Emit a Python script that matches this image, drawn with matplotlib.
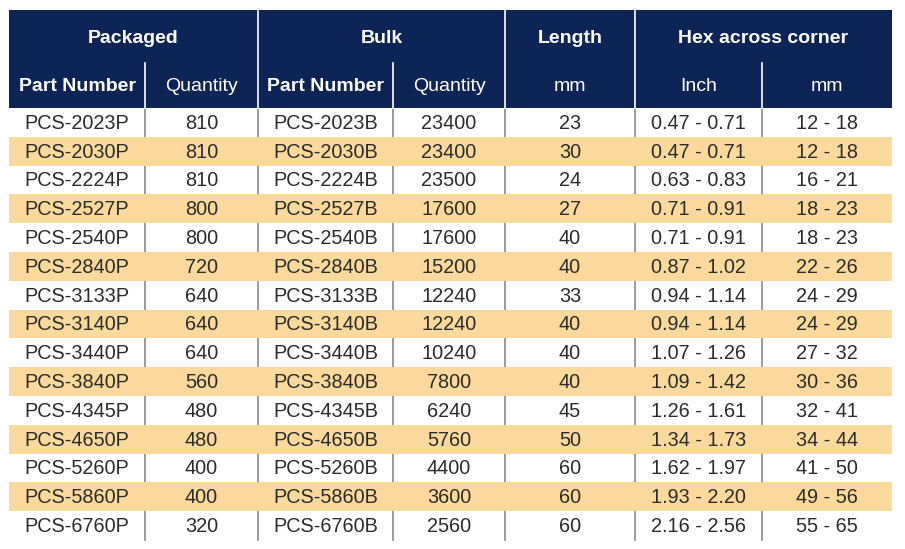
import matplotlib.pyplot as plt
from matplotlib.patches import Rectangle

plt.rcParams['font.family'] = ['Liberation Sans', 'DejaVu Sans']

part_p = ["PCS-2023P", "PCS-2030P", "PCS-2224P", "PCS-2527P", "PCS-2540P", "PCS-2840P",
          "PCS-3133P", "PCS-3140P", "PCS-3440P", "PCS-3840P", "PCS-4345P", "PCS-4650P",
          "PCS-5260P", "PCS-5860P", "PCS-6760P"]
qty_p = [810, 810, 810, 800, 800, 720, 640, 640, 640, 560, 480, 480, 400, 400, 320]
part_b = [p[:-1] + "B" for p in part_p]
qty_b = [23400, 23400, 23500, 17600, 17600, 15200, 12240, 12240, 10240, 7800, 6240, 5760,
         4400, 3600, 2560]
length_mm = [23, 30, 24, 27, 40, 40, 33, 40, 40, 40, 45, 50, 60, 60, 60]
hex_inch = ["0.47 - 0.71", "0.47 - 0.71", "0.63 - 0.83", "0.71 - 0.91", "0.71 - 0.91",
            "0.87 - 1.02", "0.94 - 1.14", "0.94 - 1.14", "1.07 - 1.26", "1.09 - 1.42",
            "1.26 - 1.61", "1.34 - 1.73", "1.62 - 1.97", "1.93 - 2.20", "2.16 - 2.56"]
hex_mm = ["12 - 18", "12 - 18", "16 - 21", "18 - 23", "18 - 23", "22 - 26", "24 - 29",
          "24 - 29", "27 - 32", "30 - 36", "32 - 41", "34 - 44", "41 - 50", "49 - 56",
          "55 - 65"]

groups = ["Packaged", "Bulk", "Length", "Hex across corner"]
subheads = ["Part Number", "Quantity", "Part Number", "Quantity", "mm", "Inch", "mm"]
sub_bold = [True, False, True, False, False, False, False]

navy = '#0d2456'
orange = '#fbd99c'
text_c = '#2b2b2b'
line_c = '#8a8a8a'

xs = [9, 145, 258, 393, 505, 635, 762, 892]
group_span = [(0, 2), (2, 4), (4, 5), (5, 7)]
y_top, y_mid, y_hdr = 10, 63, 108
row_h = 28.8

fig = plt.figure(figsize=(9.05, 5.49), dpi=100)
ax = fig.add_axes([0, 0, 1, 1])
ax.set_xlim(0, 905)
ax.set_ylim(549, 0)
ax.axis('off')

# header block
ax.add_patch(Rectangle((xs[0], y_top), xs[-1] - xs[0], y_hdr - y_top, color=navy, lw=0))
for g, (a, b) in enumerate(group_span):
    ax.text((xs[a] + xs[b]) / 2, (y_top + y_mid) / 2 + 2, groups[g], color='white',
            fontsize=14, fontweight='bold', ha='center', va='center')
for i, s in enumerate(subheads):
    ax.text((xs[i] + xs[i + 1]) / 2, (y_mid + y_hdr) / 2 + 1, s, color='white', fontsize=14,
            fontweight='bold' if sub_bold[i] else 'normal', ha='center', va='center')
for a, b in group_span[1:]:
    ax.plot([xs[a], xs[a]], [y_top, y_hdr], color='white', lw=1.2)
for i in [1, 3, 6]:
    ax.plot([xs[i], xs[i]], [y_mid, y_hdr], color='white', lw=1.2)

# data rows
cols = [part_p, qty_p, part_b, qty_b, length_mm, hex_inch, hex_mm]
n = len(part_p)
for r in range(n):
    y0 = y_hdr + r * row_h
    if r % 2 == 1:
        ax.add_patch(Rectangle((xs[0], y0), xs[-1] - xs[0], row_h, color=orange, lw=0))
    for c, col in enumerate(cols):
        ax.text((xs[c] + xs[c + 1]) / 2, y0 + row_h / 2 + 1, str(col[r]), color=text_c,
                fontsize=14.3, ha='center', va='center')
y_end = y_hdr + n * row_h
for i in range(1, 7):
    ax.plot([xs[i], xs[i]], [y_hdr, y_end], color=line_c, lw=1.2, zorder=0.5)

fig.savefig('out.png', dpi=100, facecolor='white')
